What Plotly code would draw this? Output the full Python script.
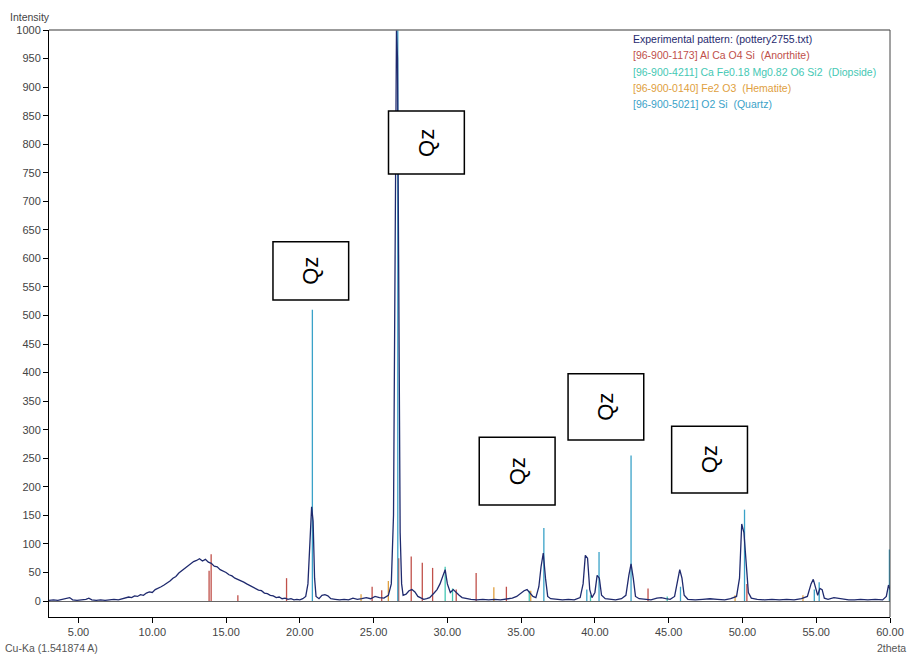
import plotly.graph_objects as go

# ---------------- data ----------------
two_theta = [3.0, 3.3, 3.6, 3.9, 4.2, 4.4, 4.6, 4.9, 5.2, 5.5, 5.7, 5.9, 6.2, 6.5, 6.8, 7.1, 7.4, 7.7, 8.0,
             8.2, 8.4, 8.6, 8.8, 9.0, 9.2, 9.4, 9.6, 9.8, 10.0, 10.2, 10.4, 10.6, 10.8, 11.0, 11.2, 11.4, 11.6,
             11.8, 12.0, 12.2, 12.4, 12.6, 12.8, 13.0, 13.2, 13.4, 13.6, 13.8, 14.0, 14.2, 14.4, 14.6, 14.8,
             15.0, 15.2, 15.4, 15.6, 15.8, 16.0, 16.2, 16.4, 16.6, 16.8, 17.0, 17.2, 17.4, 17.6, 17.8, 18.0,
             18.2, 18.4, 18.6, 18.8, 19.0, 19.2, 19.4, 19.6, 19.8, 20.0, 20.2, 20.4, 20.55, 20.7, 20.8, 20.9,
             21.0, 21.1, 21.3, 21.5, 21.7, 21.9, 22.1, 22.4, 22.7, 23.0, 23.3, 23.6, 23.9, 24.2, 24.5, 24.8,
             25.1, 25.4, 25.7, 26.0, 26.2, 26.35, 26.45, 26.55, 26.62, 26.7, 26.8, 26.9, 27.0, 27.2, 27.4,
             27.6, 27.8, 28.0, 28.2, 28.4, 28.6, 28.8, 29.1, 29.3, 29.5, 29.7, 29.85, 30.0, 30.2, 30.4, 30.6,
             30.8, 31.0, 31.3, 31.6, 32.0, 32.4, 32.8, 33.2, 33.6, 34.0, 34.4, 34.7, 35.0, 35.2, 35.4, 35.6,
             35.8, 36.0, 36.2, 36.35, 36.5, 36.65, 36.8, 37.0, 37.4, 37.8, 38.2, 38.6, 39.0, 39.2, 39.35, 39.5,
             39.65, 39.8, 40.0, 40.15, 40.3, 40.45, 40.7, 41.0, 41.4, 41.8, 42.1, 42.3, 42.45, 42.6, 42.75,
             43.0, 43.4, 43.8, 44.2, 44.5, 44.8, 45.1, 45.4, 45.6, 45.75, 45.9, 46.05, 46.3, 46.8, 47.3, 47.8,
             48.3, 48.8, 49.2, 49.6, 49.8, 49.95, 50.1, 50.25, 50.4, 50.6, 51.0, 51.5, 52.0, 52.5, 53.0, 53.5,
             54.0, 54.4, 54.65, 54.8, 54.95, 55.1, 55.25, 55.4, 55.55, 55.8, 56.2, 56.5, 56.8, 57.2, 57.6,
             58.0, 58.5, 59.0, 59.5, 59.75, 59.9, 60.0]
intensity = [1, 2, 1, 3, 4, 6, 2, 1, 2, 3, 5, 2, 1, 2, 1, 2, 3, 2, 4,
             5, 7, 6, 9, 8, 11, 10, 14, 16, 15, 20, 22, 25, 28, 31, 35, 40, 43,
             49, 53, 58, 62, 66, 69, 71, 74, 70, 73, 68, 66, 61, 60, 55, 53,
             50, 46, 44, 40, 38, 35, 33, 30, 27, 25, 22, 19, 18, 14, 13, 10,
             9, 6, 7, 4, 5, 3, 4, 2, 3, 2, 4, 8, 30, 120, 165, 140,
             40, 8, 4, 10, 11, 9, 4, 3, 2, 3, 2, 5, 3, 4, 6, 4,
             8, 6, 5, 10, 30, 150, 600, 1000, 950, 500, 120, 30, 10, 12, 18,
             20, 16, 8, 5, 3, 4, 6, 14, 20, 30, 45, 55, 30, 15, 20, 14,
             10, 6, 4, 3, 2, 3, 2, 3, 2, 3, 5, 8, 15, 18, 20, 14,
             8, 6, 25, 60, 84, 40, 8, 4, 3, 2, 3, 2, 6, 30, 80, 75,
             20, 6, 15, 45, 40, 10, 4, 3, 2, 4, 10, 45, 65, 40, 8,
             4, 3, 2, 5, 6, 4, 3, 8, 35, 55, 40, 10, 3, 2, 3, 4,
             3, 2, 4, 8, 40, 135, 120, 60, 15, 5, 3, 2, 3, 2, 3, 2,
             4, 8, 30, 38, 25, 10, 22, 20, 5, 3, 6, 5, 3, 2, 2,
             3, 2, 3, 2, 8, 28, 20]

anorthite_pos = [13.85, 13.99, 15.8, 19.1, 24.9, 25.55, 26.7, 27.55, 28.3, 29.0, 30.6, 31.95, 34.0, 43.6, 50.3]
anorthite_int = [53, 82, 10, 40, 25, 19, 75, 78, 67, 58, 20, 49, 25, 22, 30]

diopside_pos = [29.85, 30.35, 35.55, 39.7, 44.9]
diopside_int = [60, 22, 18, 10, 8]

hematite_pos = [24.15, 26.0, 33.15, 35.65, 49.5, 54.1]
hematite_int = [12, 35, 24, 18, 10, 10]

quartz_pos = [20.85, 26.64, 36.54, 39.45, 40.28, 42.45, 45.8, 50.14, 54.87, 55.2, 59.96]
quartz_int = [510, 1000, 128, 20, 86, 255, 25, 160, 20, 33, 90]

x_ticks = [5, 10, 15, 20, 25, 30, 35, 40, 45, 50, 55, 60]
y_ticks = list(range(0, 1001, 50))

legend_lines = ["Experimental pattern: (pottery2755.txt)",
                "[96-900-1173] Al Ca O4 Si  (Anorthite)",
                "[96-900-4211] Ca Fe0.18 Mg0.82 O6 Si2  (Diopside)",
                "[96-900-0140] Fe2 O3  (Hematite)",
                "[96-900-5021] O2 Si  (Quartz)"]

# ---------------- styles ----------------
C_EXP = "#1f2a6e"
C_AN = "#c0504a"
C_DI = "#45c8b4"
C_HE = "#e0a040"
C_QZ = "#3aa2c8"
legend_colors = [C_EXP, C_AN, C_DI, C_HE, C_QZ]
FONT = "Liberation Sans, Arial, sans-serif"

W, H, L, R, T, B = 916, 655, 49, 24, 30, 38
pw, ph = W - L - R, H - T - B


def px(xp):
    return (xp - L) / pw


def py(yp):
    return (H - B - yp) / ph


def sticks(pos, hts):
    xs, ys = [], []
    for p, h in zip(pos, hts):
        xs += [p, p, None]
        ys += [0, h, None]
    return xs, ys


fig = go.Figure()
for pos, hts, col in [(anorthite_pos, anorthite_int, C_AN),
                      (diopside_pos, diopside_int, C_DI),
                      (hematite_pos, hematite_int, C_HE),
                      (quartz_pos, quartz_int, C_QZ)]:
    xs, ys = sticks(pos, hts)
    fig.add_trace(go.Scatter(x=xs, y=ys, mode="lines", line=dict(color=col, width=1.3),
                             hoverinfo="skip", showlegend=False))

fig.add_trace(go.Scatter(x=two_theta, y=intensity, mode="lines",
                         line=dict(color=C_EXP, width=1.3), showlegend=False))

# Qz boxes (data coords)
boxes = [(18.18, 23.31, 527, 629), (26.01, 31.15, 748, 858), (32.16, 37.30, 168, 287),
         (38.18, 43.31, 282, 398), (45.20, 50.34, 189, 306)]
shapes = []
annotations = []
for x0, x1, y0, y1 in boxes:
    shapes.append(dict(type="rect", xref="x", yref="y", x0=x0, x1=x1, y0=y0, y1=y1,
                       line=dict(color="black", width=1.5), fillcolor="white", layer="above"))
    annotations.append(dict(x=(x0 + x1) / 2, y=(y0 + y1) / 2, xref="x", yref="y", text="Qz",
                            showarrow=False, textangle=-90,
                            font=dict(family=FONT, size=22, color="black")))

# frame lines top and right
shapes.append(dict(type="line", xref="paper", yref="paper", x0=0, x1=1, y0=1, y1=1,
                   line=dict(color="#7a7a7a", width=1.5)))
shapes.append(dict(type="line", xref="paper", yref="paper", x0=1, x1=1, y0=0, y1=1,
                   line=dict(color="#444444", width=1)))

# legend text
for i, (t, c) in enumerate(zip(legend_lines, legend_colors)):
    annotations.append(dict(x=px(632), y=py(39 + 16.3 * i), xref="paper", yref="paper", text=t,
                            showarrow=False, xanchor="left", yanchor="middle",
                            font=dict(family=FONT, size=10.5, color=c)))

annotations += [
    dict(x=px(8), y=py(17), xref="paper", yref="paper", text="Intensity", showarrow=False,
         xanchor="left", yanchor="middle", font=dict(family=FONT, size=10.5, color="#444")),
    dict(x=px(3), y=py(648), xref="paper", yref="paper", text="Cu-Ka (1.541874 A)", showarrow=False,
         xanchor="left", yanchor="middle", font=dict(family=FONT, size=10.5, color="#555")),
    dict(x=px(910), y=py(648), xref="paper", yref="paper", text="2theta", showarrow=False,
         xanchor="right", yanchor="middle", font=dict(family=FONT, size=10.5, color="#555")),
]

fig.update_layout(
    width=W, height=H, margin=dict(l=L, r=R, t=T, b=B),
    paper_bgcolor="white", plot_bgcolor="white",
    shapes=shapes, annotations=annotations,
    xaxis=dict(range=[3.0, 60.0], tickvals=x_ticks, ticktext=["%.2f" % v for v in x_ticks],
               ticks="outside", ticklen=5, tickcolor="black", showline=True, linecolor="black",
               linewidth=1, showgrid=False, zeroline=False,
               tickfont=dict(family=FONT, size=11, color="#444")),
    yaxis=dict(range=[-28, 1000], tickvals=y_ticks, ticks="outside", ticklen=5, tickcolor="black",
               showline=True, linecolor="black", linewidth=1, showgrid=False,
               zeroline=True, zerolinecolor="#666", zerolinewidth=1,
               tickfont=dict(family=FONT, size=11, color="#444")),
)

fig.write_html("out.html", config={"displayModeBar": False},
               post_script="document.body.style.margin='0';document.body.style.overflow='hidden';")
